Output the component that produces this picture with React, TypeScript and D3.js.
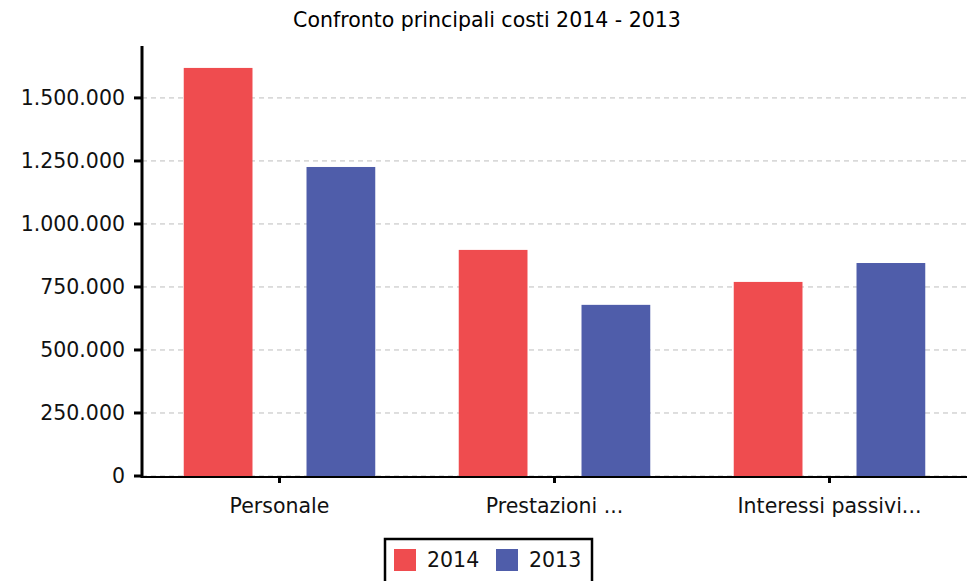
import * as React from 'react';
import * as d3 from 'd3';

const categories = ['Personale', 'Prestazioni ...', 'Interessi passivi...'];
const seriesNames = ['2014', '2013'];
const values2014 = [1619000, 897000, 770000];
const values2013 = [1226000, 679000, 845000];
const yTicks = [0, 250000, 500000, 750000, 1000000, 1250000, 1500000];
const colors = ['#ef4c4f', '#4f5daa'];

const W = 977;
const H = 581;
const margin = { top: 46, right: 10, bottom: 105, left: 142 };
const font = '"DejaVu Sans", Verdana, sans-serif';

const fmt = (v: number) => d3.format(',')(v).replace(/,/g, '.');

export default function App() {
    const x = d3.scaleBand<string>()
        .domain(categories)
        .range([margin.left, W - margin.right]);

    const y = d3.scaleLinear()
        .domain([0, 1706000])
        .range([H - margin.bottom, margin.top]);

    const inner = d3.scaleBand<string>()
        .domain(seriesNames)
        .range([0, x.bandwidth()])
        .paddingInner(0.44)
        .paddingOuter(0.34);

    const series = [values2014, values2013];
    const y0 = y(0);

    return (
        <svg width={W} height={H} style={{ position: 'absolute', left: 0, top: 0 }} fontFamily={font}>
            <rect width={W} height={H} fill="#fff" />
            <text x={487} y={27} textAnchor="middle" fontSize={20.5} fill="#000">
                Confronto principali costi 2014 - 2013
            </text>

            {/* gridlines */}
            {yTicks.map(t => (
                <line key={'g' + t} x1={margin.left} x2={W - margin.right} y1={y(t)} y2={y(t)}
                    stroke="#bdbdbd" strokeWidth={1} strokeDasharray="5,4" />
            ))}

            {/* bars */}
            {categories.map((c, i) => (
                <g key={c}>
                    {seriesNames.map((s, j) => (
                        <rect key={s}
                            x={(x(c) as number) + (inner(s) as number)}
                            y={y(series[j][i])}
                            width={inner.bandwidth()}
                            height={y0 - y(series[j][i])}
                            fill={colors[j]} />
                    ))}
                </g>
            ))}

            {/* y axis */}
            <line x1={margin.left} x2={margin.left} y1={margin.top} y2={y0 + 2} stroke="#000" strokeWidth={3} />
            {yTicks.map(t => (
                <g key={'t' + t}>
                    <line x1={margin.left - 8} x2={margin.left} y1={y(t)} y2={y(t)} stroke="#000" strokeWidth={3} />
                    <text x={margin.left - 17} y={y(t)} dy="0.35em" textAnchor="end" fontSize={20.5} fill="#111">
                        {fmt(t)}
                    </text>
                </g>
            ))}

            {/* x axis */}
            <line x1={margin.left} x2={W - margin.right} y1={y0 + 1} y2={y0 + 1} stroke="#000" strokeWidth={2} />
            {categories.map(c => {
                const cx = (x(c) as number) + x.bandwidth() / 2;
                return (
                    <g key={'x' + c}>
                        <line x1={cx} x2={cx} y1={y0} y2={y0 + 7} stroke="#000" strokeWidth={3} />
                        <text x={cx} y={513} textAnchor="middle" fontSize={20.5} fill="#111">{c}</text>
                    </g>
                );
            })}

            {/* legend */}
            <rect x={385} y={539} width={207} height={44} fill="#fff" stroke="#000" strokeWidth={2.5} />
            {seriesNames.map((s, j) => (
                <g key={'l' + s} transform={`translate(${394 + j * 102},549)`}>
                    <rect width={22} height={22} fill={colors[j]} />
                    <text x={33} y={11} dy="0.35em" fontSize={20.5} fill="#111">{s}</text>
                </g>
            ))}
        </svg>
    );
}
